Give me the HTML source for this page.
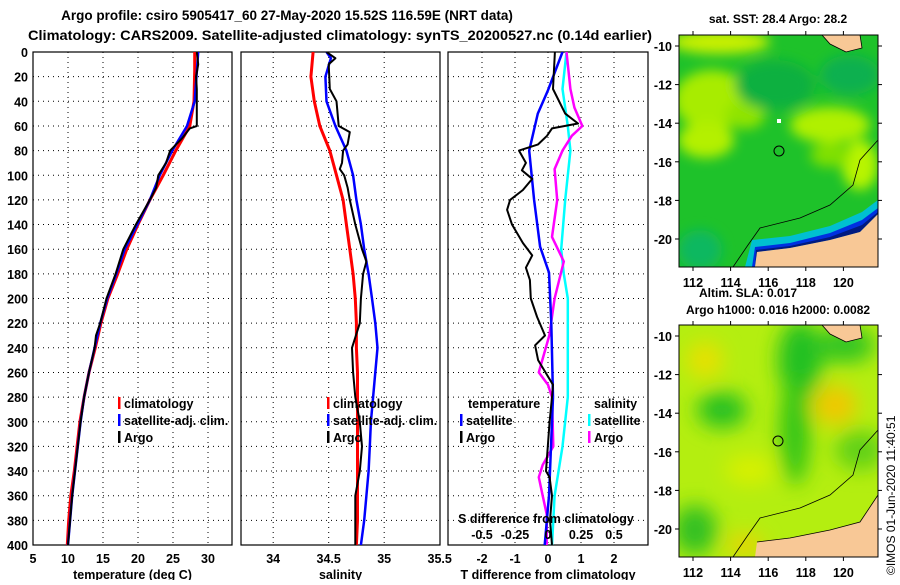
<!DOCTYPE html>
<html><head><meta charset="utf-8">
<style>
body{margin:0;background:#fff}
svg text{font-family:"Liberation Sans",Arial,sans-serif;font-weight:bold;fill:#000}
</style></head>
<body>
<svg id="fig" width="900" height="580" viewBox="0 0 900 580" xmlns="http://www.w3.org/2000/svg">
<defs>
<filter id="blur1" x="-20%" y="-20%" width="140%" height="140%"><feGaussianBlur stdDeviation="6"/></filter>
<filter id="blur2" x="-20%" y="-20%" width="140%" height="140%"><feGaussianBlur stdDeviation="10"/></filter>
<clipPath id="clipm1"><rect x="679" y="35" width="199" height="232"/></clipPath>
<clipPath id="clipm2"><rect x="679" y="325" width="199" height="232"/></clipPath>
<clipPath id="clipp1"><rect x="33" y="52" width="199" height="493"/></clipPath>
<clipPath id="clipp2"><rect x="241" y="52" width="199" height="493"/></clipPath>
<clipPath id="clipp3"><rect x="448" y="52" width="200" height="493"/></clipPath>
</defs>
<text x="287" y="20" font-size="13.5" text-anchor="middle">Argo profile: csiro 5905417_60 27-May-2020 15.52S 116.59E (NRT data)</text>
<text x="28" y="40" font-size="13.5" textLength="624" lengthAdjust="spacingAndGlyphs">Climatology: CARS2009. Satellite-adjusted climatology: synTS_20200527.nc (0.14d earlier)</text>

<g id="p1"></g>
<g id="p2"></g>
<g id="p3"></g>

<!-- Map 1 : SST -->
<g>
<text x="778" y="23" font-size="12" text-anchor="middle">sat. SST: 28.4 Argo: 28.2</text>
<g clip-path="url(#clipm1)">
<rect x="679" y="35" width="199" height="232" fill="#1ec22a"/>
<g filter="url(#blur1)">
<ellipse cx="720" cy="42" rx="50" ry="12" fill="#c8f000"/>
<ellipse cx="712" cy="100" rx="38" ry="30" fill="#a8ec00"/>
<ellipse cx="706" cy="140" rx="28" ry="18" fill="#b4f000"/>
<ellipse cx="745" cy="115" rx="20" ry="14" fill="#90e400"/>
<ellipse cx="830" cy="125" rx="40" ry="18" fill="#b0f000"/>
<ellipse cx="860" cy="165" rx="18" ry="25" fill="#b8f400"/>
<ellipse cx="830" cy="155" rx="20" ry="12" fill="#80e000"/>
<ellipse cx="775" cy="85" rx="40" ry="25" fill="#10b040"/>
<ellipse cx="850" cy="75" rx="30" ry="20" fill="#08b050"/>
<ellipse cx="700" cy="250" rx="22" ry="20" fill="#10b860"/>
</g>
<path d="M745,267 L752,240 L790,236 L830,226 L862,212 L878,200 L878,214 L860,232 L830,240 L790,248 L757,252 L755,267Z" fill="#00c0d0"/>
<path d="M752,267 L755,247 L790,243 L830,233 L862,220 L878,208 L878,214 L860,232 L830,240 L790,248 L757,252 L755,267Z" fill="#0030e0"/>
<path d="M755,267 L756,250 L790,246 L830,237 L862,225 L878,212 L878,214 L860,232 L830,240 L790,248 L757,252 L755,267Z" fill="#001a80"/>
<path d="M755,267 L757,252 L790,248 L830,240 L860,232 L878,214 L878,267Z" fill="#f8c896"/>
<path d="M822,35 L860,35 L862,48 L846,52 L830,44Z" fill="#f8c896" stroke="#000" stroke-width="0.8"/>
<polyline points="733,267 748,245 760,228 800,218 830,205 853,185 860,160 878,140" fill="none" stroke="#000" stroke-width="0.8"/>
<rect x="777" y="119" width="4" height="4" fill="#fff"/>
<circle cx="779" cy="151" r="5" fill="none" stroke="#000" stroke-width="1"/>
</g>
<rect x="679" y="35" width="199" height="232" fill="none" stroke="#000"/>
<g id="m1ticks"></g>
</g>

<!-- Map 2 : SLA -->
<g>
<text x="748" y="297" font-size="12" text-anchor="middle">Altim. SLA: 0.017</text>
<text x="778" y="314" font-size="12" text-anchor="middle">Argo h1000: 0.016 h2000: 0.0082</text>
<g clip-path="url(#clipm2)">
<rect x="679" y="325" width="199" height="232" fill="#b4ee10"/>
<g filter="url(#blur2)">
<ellipse cx="800" cy="360" rx="22" ry="40" fill="#20c020"/>
<ellipse cx="795" cy="430" rx="15" ry="55" fill="#30c418"/>
<ellipse cx="722" cy="410" rx="25" ry="18" fill="#28c020"/>
<ellipse cx="845" cy="345" rx="30" ry="18" fill="#30c420"/>
<ellipse cx="860" cy="450" rx="25" ry="20" fill="#60d018"/>
<ellipse cx="695" cy="530" rx="22" ry="25" fill="#30c020"/>
<ellipse cx="835" cy="405" rx="22" ry="20" fill="#f0c800"/>
<ellipse cx="705" cy="360" rx="18" ry="18" fill="#e8e000"/>
<ellipse cx="745" cy="545" rx="18" ry="10" fill="#f0d000"/>
<ellipse cx="750" cy="470" rx="25" ry="15" fill="#d8f000"/>
</g>
<path d="M755,557 L757,542 L790,538 L830,530 L860,522 L878,495 L878,557Z" fill="#f8c896"/>
<path d="M822,325 L860,325 L862,338 L846,342 L830,334Z" fill="#f8c896" stroke="#000" stroke-width="0.8"/>
<polyline points="757,542 790,538 830,530 860,522 878,495" fill="none" stroke="#000" stroke-width="0.8"/>
<polyline points="733,557 748,535 760,518 800,508 830,495 853,475 860,450 878,430" fill="none" stroke="#000" stroke-width="0.8"/>
<circle cx="778" cy="441" r="5" fill="none" stroke="#000" stroke-width="1"/>
</g>
<rect x="679" y="325" width="199" height="232" fill="none" stroke="#000"/>
<g id="m2ticks"></g>
</g>
<text transform="translate(895,575) rotate(-90)" font-size="12" style="font-weight:normal">©IMOS 01-Jun-2020 11:40:51</text>
</svg>

<script>
// ---- data ----
const depthTicks = [0,20,40,60,80,100,120,140,160,180,200,220,240,260,280,300,320,340,360,380,400];
const tempTicks = [5,10,15,20,25,30];
const salTicks = [34,34.5,35,35.5];
const tDiffTicks = [-2,-1,0,1,2];
const sDiffTicks = [-0.5,-0.25,0,0.25,0.5];

const tClimDepth = [0,15,40,60,80,100,120,140,160,180,200,220,240,260,280,300,320,340,360,380,400];
const tClimVal =   [28.1,28.1,28.0,27.4,25.4,23.6,21.7,20.0,18.4,17.1,15.7,14.7,13.9,13.0,12.3,11.7,11.3,10.9,10.4,10.1,9.9];
const tSatDepth = [0,40,60,80,100,120,140,160,180,200,220,240,260,280,300,320,340,360,380,400];
const tSatVal =   [28.6,28.1,27.0,24.9,23.1,21.7,19.9,18.1,16.9,15.6,14.6,13.8,13.0,12.3,11.8,11.4,11.0,10.6,10.3,10.0];
const tArgoDepth = [0,10,20,30,40,60,62,70,80,90,100,110,120,140,160,180,200,220,230,240,260,280,300,320,340,360,380,400];
const tArgoVal =   [28.4,28.6,28.3,28.4,28.4,28.4,27.4,26.3,24.6,24.0,22.9,22.6,21.7,19.7,17.9,16.8,15.5,14.6,14.0,13.8,13.0,12.3,11.8,11.4,11.0,10.6,10.3,10.0];

const sClimDepth = [0,20,40,60,80,100,120,140,160,180,200,220,240,260,280,300,320,340,360,380,400];
const sClimVal =   [34.36,34.34,34.37,34.42,34.51,34.57,34.63,34.66,34.69,34.72,34.74,34.75,34.75,34.76,34.76,34.76,34.76,34.76,34.76,34.76,34.75];
const sSatDepth = [0,5,20,40,60,80,100,120,140,160,180,200,220,240,260,280,300,320,340,360,380,400];
const sSatVal =   [34.48,34.52,34.47,34.48,34.56,34.66,34.72,34.75,34.79,34.82,34.86,34.89,34.92,34.94,34.92,34.90,34.88,34.87,34.86,34.84,34.82,34.79];
const sArgoDepth = [0,5,10,30,40,60,65,75,80,90,95,100,110,120,140,160,170,180,200,220,240,260,280,300,320,340,360,380,400];
const sArgoVal =   [34.48,34.56,34.50,34.51,34.57,34.59,34.69,34.67,34.63,34.62,34.60,34.64,34.67,34.69,34.74,34.80,34.84,34.81,34.79,34.78,34.71,34.72,34.74,34.78,34.80,34.78,34.74,34.74,34.74];

const dTSatDepth = [0,31,50,80,120,158,179,220,280,360,400];
const dTSatVal =   [0.44,0,-0.31,-0.57,-0.42,-0.24,0.03,0.1,0.15,0.03,-0.1];
const dTArgoDepth = [0,30,50,58,62,68,75,80,90,96,103,112,120,128,140,155,165,175,185,200,215,230,238,250,262,270,280,300,340,345,360,380,400];
const dTArgoVal =   [0.21,0.15,0.52,0.91,0.12,-0.03,-0.3,-0.88,-0.67,-0.79,-0.48,-0.76,-1.15,-1.24,-1.09,-0.76,-0.48,-0.67,-0.55,-0.52,-0.33,-0.09,-0.39,-0.3,-0.03,0.15,0.12,0.05,-0.06,0.05,0.12,0.06,0.12];
const dSSatDepth = [0,30,60,80,120,160,180,200,270,280,320,360,400];
const dSSatVal =   [0.14,0.11,0.15,0.17,0.13,0.1,0.12,0.15,0.15,0.15,0.11,0.05,0.03];
const dSArgoDepth = [0,30,45,60,68,80,95,120,150,170,200,230,260,270,280,320,335,345,360,375,400];
const dSArgoVal =   [0.14,0.17,0.2,0.26,0.18,0.11,0.05,0.07,0.03,0.12,0.05,0.01,-0.07,0,0.03,0.04,-0.04,-0.07,-0.04,-0.01,-0.01];

const mapLatTicks = [-10,-12,-14,-16,-18,-20];
const mapLonTicks = [112,114,116,118,120];

// ---- axes ----
const NS='http://www.w3.org/2000/svg';
const Y0=52, Y1=545;
function yDepth(d){return Y0+(d/400)*(Y1-Y0);}
function xTemp(t){return 33+(t-5)*7.0;}
function xSal(s){return 241+(s-33.71)*111;}
function xDT(v){return 548+v*33;}
function xDS(v){return 548+v*132;}
function mk(tag,attrs,parent){const e=document.createElementNS(NS,tag);for(const k in attrs)e.setAttribute(k,attrs[k]);parent.appendChild(e);return e;}

function panel(g,x0,x1,xticks,xf,xlabels,xtitle,showY){
  for(const d of depthTicks){
    if(d>0&&d<400){const l=mk('line',{x1:x0,x2:x1,y1:yDepth(d),y2:yDepth(d),stroke:'#000','stroke-width':1,'stroke-dasharray':'1,4'},g);
    
    }
    if(showY){const t=mk('text',{x:28,y:yDepth(d)+5,'font-size':12.5,'text-anchor':'end'},g);t.textContent=d;
    
    }
  }
  xticks.forEach(v=>{const x=xf(v);
    if(x>x0+2&&x<x1-2){const l=mk('line',{x1:x,x2:x,y1:Y0,y2:Y1,stroke:'#000','stroke-width':1,'stroke-dasharray':'1,4'},g);
    
    }
  });
  xlabels.forEach(v=>{const t=mk('text',{x:xf(v),y:563,'font-size':12.5,'text-anchor':'middle'},g);t.textContent=v;
    
    });
  const tt=mk('text',{x:(x0+x1)/2,y:579,'font-size':12.5,'text-anchor':'middle'},g);tt.textContent=xtitle;
  
  
  const r=mk('rect',{x:x0,y:Y0,width:x1-x0,height:Y1-Y0,fill:'none',stroke:'#000','stroke-width':1.2},g);
  
  
}
function line(g,depths,vals,xf,color,w,name,clip){
  const pts=depths.map((d,i)=>xf(vals[i]).toFixed(1)+','+yDepth(d).toFixed(1)).join(' ');
  const p=mk('polyline',{points:pts,fill:'none',stroke:color,'stroke-width':w,'clip-path':'url(#'+clip+')','stroke-linejoin':'round'},g);
  
  
}
function legend(g,x,y,color,label){
  const r=mk('rect',{x:x,y:y-9,width:2.5,height:12,fill:color},g);
  
  
  const t=mk('text',{x:x+6,y:y+2,'font-size':12.5},g);t.textContent=label;
  
  
}

const p1=document.getElementById('p1'),p2=document.getElementById('p2'),p3=document.getElementById('p3');
panel(p1,33,232,tempTicks,xTemp,tempTicks,'temperature (deg C)',true);
line(p1,tClimDepth,tClimVal,xTemp,'#ff0000',3,'temperature-climatology-line','clipp1');
line(p1,tSatDepth,tSatVal,xTemp,'#0000ff',2.5,'temperature-satellite-line','clipp1');
line(p1,tArgoDepth,tArgoVal,xTemp,'#000000',2,'temperature-argo-line','clipp1');
legend(p1,118,406,'#ff0000','climatology');
legend(p1,118,423,'#0000ff','satellite-adj. clim.');
legend(p1,118,440,'#000000','Argo');

panel(p2,241,440,salTicks,xSal,salTicks,'salinity',false);
line(p2,sClimDepth,sClimVal,xSal,'#ff0000',3,'salinity-climatology-line','clipp2');
line(p2,sSatDepth,sSatVal,xSal,'#0000ff',2.5,'salinity-satellite-line','clipp2');
line(p2,sArgoDepth,sArgoVal,xSal,'#000000',2,'salinity-argo-line','clipp2');
legend(p2,327,406,'#ff0000','climatology');
legend(p2,327,423,'#0000ff','satellite-adj. clim.');
legend(p2,327,440,'#000000','Argo');

panel(p3,448,648,tDiffTicks,xDT,tDiffTicks,'T difference from climatology',false);
line(p3,dSSatDepth,dSSatVal,xDS,'#00ffff',2.5,'salinity-diff-satellite-line','clipp3');
line(p3,dSArgoDepth,dSArgoVal,xDS,'#ff00ff',2.5,'salinity-diff-argo-line','clipp3');
line(p3,dTSatDepth,dTSatVal,xDT,'#0000ff',2.5,'temperature-diff-satellite-line','clipp3');
line(p3,dTArgoDepth,dTArgoVal,xDT,'#000000',2,'temperature-diff-argo-line','clipp3');
{const t=mk('text',{x:468,y:408,'font-size':12.5},p3);t.textContent='temperature';


const s=mk('text',{x:594,y:408,'font-size':12.5},p3);s.textContent='salinity';

}
legend(p3,460,423,'#0000ff','satellite');
legend(p3,460,440,'#000000','Argo');
legend(p3,588,423,'#00ffff','satellite');
legend(p3,588,440,'#ff00ff','Argo');
{const t=mk('text',{x:546,y:523,'font-size':12.5,'text-anchor':'middle'},p3);t.textContent='S difference from climatology';

}
sDiffTicks.forEach(v=>{const t=mk('text',{x:xDS(v),y:539,'font-size':12.5,'text-anchor':'middle'},p3);t.textContent=v;

});

// map ticks
function mapTicks(id,top){
  const g=document.getElementById(id);
  const yLat=lat=>top+11+(-10-lat)*19.3;
  const xLon=lon=>693+(lon-112)*18.8;
  mapLatTicks.forEach(v=>{const y=yLat(v);
    mk('line',{x1:675,x2:679,y1:y,y2:y,stroke:'#000'},g);mk('line',{x1:878,x2:882,y1:y,y2:y,stroke:'#000'},g);
    const t=mk('text',{x:672,y:y+5,'font-size':12.5,'text-anchor':'end'},g);t.textContent=v;
    
    });
  mapLonTicks.forEach(v=>{const x=xLon(v);
    mk('line',{x1:x,x2:x,y1:top-4,y2:top,stroke:'#000'},g);mk('line',{x1:x,x2:x,y1:top+232,y2:top+236,stroke:'#000'},g);
    const t=mk('text',{x:x,y:top+252,'font-size':12.5,'text-anchor':'middle'},g);t.textContent=v;
    
    });
}
mapTicks('m1ticks',35);
mapTicks('m2ticks',325);
</script>
</body></html>
